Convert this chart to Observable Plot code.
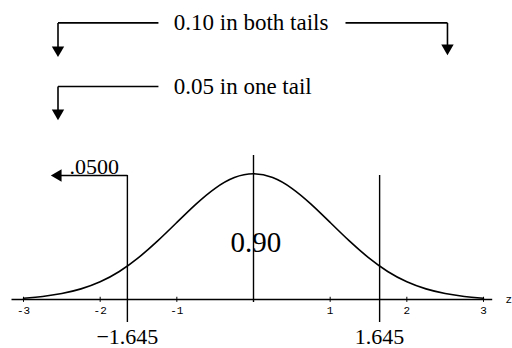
<!DOCTYPE html>
<html><head><meta charset="utf-8">
<script src="https://cdn.jsdelivr.net/npm/d3@7"></script>
<script src="https://cdn.jsdelivr.net/npm/@observablehq/plot@0.6"></script>
<style>
html,body{margin:0;padding:0;background:#fff;}
</style>
</head><body><div id="chart"></div>
<script>
// Curve (z, density)
const curveZ = [-3,-2.75,-2.5,-2.25,-2,-1.75,-1.5,-1.25,-1,-0.75,-0.5,-0.25,0,0.25,0.5,0.75,1,1.25,1.5,1.75,2,2.25,2.5,2.75,3];
const curveD = [0.004,0.009,0.018,0.032,0.054,0.086,0.130,0.183,0.242,0.301,0.352,0.387,0.399,0.387,0.352,0.301,0.242,0.183,0.130,0.086,0.054,0.032,0.018,0.009,0.004];
const tickValues = [-3,-2,-1,1,2,3];
const tickLabels = ["-3","-2","-1","1","2","3"];
const critical = [-1.645, 1.645];
const criticalLabels = ["\u22121.645", "1.645"];
const centerLabel = "0.90";
const tailLabel = ".0500";
const topLabels = ["0.10 in both tails", "0.05 in one tail"];
const axisLabel = "z";

// annotation geometry (data units)
const topY = [0.869, 0.669];
const textStartX = -1.04;
const bracketLeftX = -2.55, bracketRightX = 2.53;
const bracketTextEnd = -1.24, bracketTextRestart = 1.20;
const arrowTips = [{x: bracketLeftX, y: 0.784}, {x: bracketRightX, y: 0.790}, {x: bracketLeftX, y: 0.586}];
const tailArrowY = 0.3896, tailArrowTip = -2.55;

const curve = curveZ.map((z, i) => ({z, d: curveD[i]}));

const segments = [
  {x1: bracketTextEnd, y1: topY[0], x2: bracketLeftX, y2: topY[0]},
  {x1: bracketLeftX, y1: topY[0], x2: bracketLeftX, y2: arrowTips[0].y},
  {x1: bracketTextRestart, y1: topY[0], x2: bracketRightX, y2: topY[0]},
  {x1: bracketRightX, y1: topY[0], x2: bracketRightX, y2: arrowTips[1].y},
  {x1: bracketTextEnd, y1: topY[1], x2: bracketLeftX, y2: topY[1]},
  {x1: bracketLeftX, y1: topY[1], x2: bracketLeftX, y2: arrowTips[2].y},
  {x1: critical[0], y1: tailArrowY, x2: tailArrowTip, y2: tailArrowY}
];

const serif = "Liberation Serif";
const mono = "Liberation Mono";

const chart = Plot.plot({
  width: 512,
  height: 348,
  margin: 0,
  x: {domain: [-3, 3], range: [23, 483], axis: null},
  y: {domain: [0, 0.9394], range: [299, 0], axis: null},
  marks: [
    Plot.ruleY([0], {x1: -3.15, x2: 3.12, stroke: "#000", strokeWidth: 1.3}),
    Plot.ruleX(tickValues, {y1: -0.009, y2: 0.007, stroke: "#000", strokeWidth: 1}),
    Plot.text(tickValues, {x: d => d, y: -0.033, text: (d, i) => tickLabels[i], fontFamily: mono, fontSize: 11, fill: "#000"}),
    Plot.text([axisLabel], {x: 3.33, y: 0.0, text: d => d, fontFamily: mono, fontSize: 11, fill: "#000"}),
    Plot.line(curve, {x: "z", y: "d", curve: "basis", stroke: "#000", strokeWidth: 1.6}),
    Plot.ruleX([0], {y1: -0.0094, y2: 0.4524, stroke: "#000", strokeWidth: 1.4}),
    Plot.ruleX(critical, {y1: -0.0723, y2: 0.3896, stroke: "#000", strokeWidth: 1.4}),
    Plot.text(critical, {x: d => d, y: -0.117, text: (d, i) => criticalLabels[i], fontFamily: serif, fontSize: 22, fill: "#000"}),
    Plot.text([centerLabel], {x: 0.03, y: 0.179, text: d => d, fontFamily: serif, fontSize: 29, fill: "#000"}),
    Plot.text([tailLabel], {x: -2.40, y: 0.418, text: d => d, textAnchor: "start", fontFamily: serif, fontSize: 22, fill: "#000"}),
    Plot.link(segments, {x1: "x1", y1: "y1", x2: "x2", y2: "y2", stroke: "#000", strokeWidth: 1.6}),
    Plot.dot(arrowTips, {x: "x", y: "y", symbol: "triangle", r: 4.6, fill: "#000", stroke: "none", rotate: 180}),
    Plot.dot([{x: tailArrowTip, y: tailArrowY}], {x: "x", y: "y", symbol: "triangle", r: 4.6, fill: "#000", stroke: "none", rotate: -90}),
    Plot.text(topLabels, {x: textStartX, y: (d, i) => topY[i], text: d => d, textAnchor: "start", fontFamily: serif, fontSize: 23, fill: "#000"})
  ]
});
d3.select(chart).selectAll("text").each(function() {
  let g = this.parentNode, f = null;
  while (g && g.getAttribute && !(f = g.getAttribute("font-family"))) g = g.parentNode;
  if (f) this.style.fontFamily = f;
});
document.getElementById("chart").appendChild(chart);
</script>
</body></html>
